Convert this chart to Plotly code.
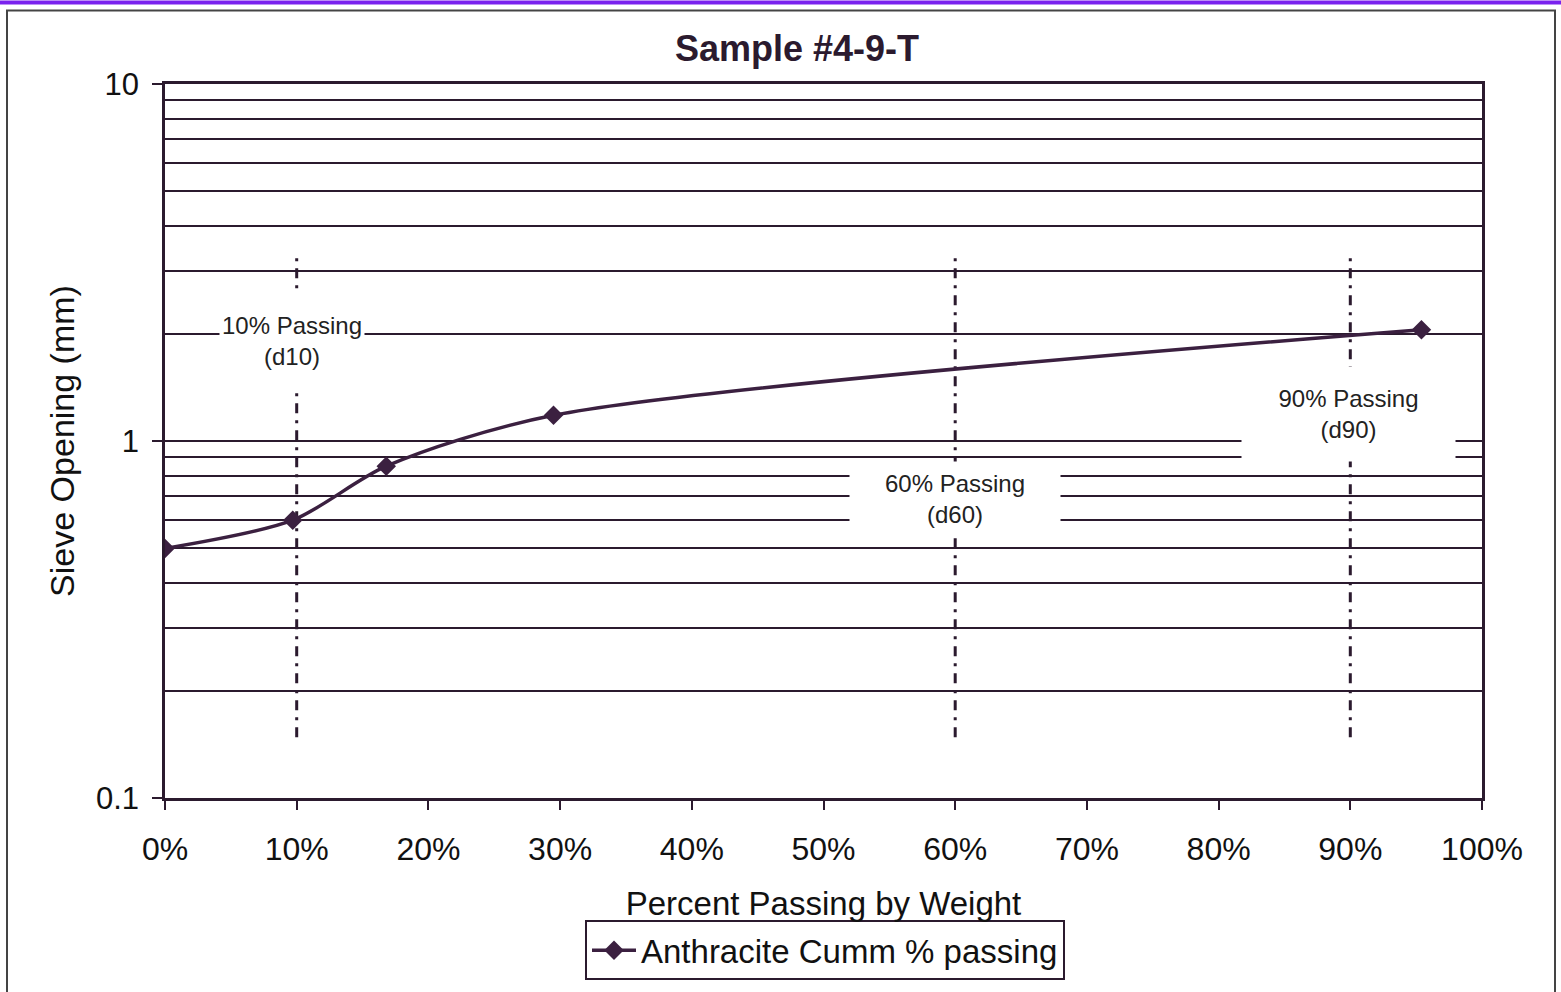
import math
import plotly.graph_objects as go

# ---- data ----
pct_passing = [0, 9.7, 16.8, 29.5, 95.4]          # % passing by weight
sieve_mm = [0.5, 0.6, 0.85, 1.18, 2.05]            # sieve opening (mm)
d_levels = [10, 60, 90]                            # d10, d60, d90 markers
d_line_y = [0.148, 3.4]                            # vertical extent of dotted lines
d_labels = ["10% Passing<br>(d10)", "60% Passing<br>(d60)", "90% Passing<br>(d90)"]
d_label_y = [1.90, 0.689, 1.19]
d_label_w = [144, 210, 213]
d_label_h = [94, 74, 94]
d_label_dx = [-5, 0, -2]
x_ticks = list(range(0, 101, 10))
x_ticktext = [f"{v}%" for v in x_ticks]
y_major = [0.1, 1, 10]
y_major_text = ["0.1", "1", "10"]
y_minor = [m * 10 ** e for e in (-1, 0) for m in range(2, 10)]

INK = "#2b1a2e"
LINE = "#3b2040"
FONT = "Arial, Liberation Sans, sans-serif"

T, B = 84, 190
PH = 992 - T - B

fig = go.Figure()

for i, lv in enumerate(d_levels):
    fig.add_trace(go.Scatter(
        x=[lv, lv], y=d_line_y, mode="lines", showlegend=False, hoverinfo="skip",
        line=dict(color=INK, width=3, dash="10px,7px,3px,7px")))

fig.add_trace(go.Scatter(
    x=pct_passing, y=sieve_mm, mode="lines+markers",
    name="Anthracite Cumm % passing",
    line=dict(color=LINE, width=3.5, shape="spline", smoothing=0.8),
    marker=dict(symbol="diamond", size=15, color=LINE)))

for lbl, ly, w, h, lv, dx in zip(d_labels, d_label_y, d_label_w, d_label_h, d_levels, d_label_dx):
    fig.add_annotation(
        x=lv, y=math.log10(ly), xref="x", yref="y", text=lbl, showarrow=False,
        font=dict(family=FONT, size=24, color="#222"), bgcolor="white",
        width=w, height=h, borderpad=0, align="center", xshift=dx)

fig.update_layout(
    width=1561, height=992,
    margin=dict(l=165, r=79, t=T, b=B),
    paper_bgcolor="white", plot_bgcolor="white",
    title=dict(text="<b>Sample #4-9-T</b>", x=797 / 1561, xref="container", xanchor="center",
               y=1 - 48 / 992, yanchor="middle", yref="container",
               font=dict(family=FONT, size=36, color=INK)),
    font=dict(family=FONT, color="#111"),
    xaxis=dict(range=[0, 100], tickvals=x_ticks, ticktext=x_ticktext,
               ticks="outside", ticklen=9, tickwidth=2, tickcolor=INK,
               ticklabelstandoff=12,
               showgrid=False, zeroline=False,
               showline=True, mirror=True, linecolor=INK, linewidth=2.5,
               tickfont=dict(family=FONT, size=32, color="#111"),
               title=dict(text="Percent Passing by Weight", standoff=26,
                          font=dict(family=FONT, size=33, color="#111"))),
    yaxis=dict(type="log", range=[-1, 1], tickvals=y_major, ticktext=y_major_text,
               ticks="outside", ticklen=10, tickwidth=2, tickcolor=INK,
               ticklabelstandoff=7,
               showgrid=True, gridcolor=INK, gridwidth=1.5, zeroline=False,
               showline=True, mirror=True, linecolor=INK, linewidth=2.5,
               tickfont=dict(family=FONT, size=31, color="#111"),
               minor=dict(tickvals=y_minor, showgrid=True, gridcolor=INK,
                          gridwidth=1.5, ticks=""),
               title=dict(text="Sieve Opening (mm)", standoff=12,
                          font=dict(family=FONT, size=34, color="#111"))),
    legend=dict(orientation="h", x=(825 - 165) / 1317, xanchor="center",
                y=-(925 - (992 - B)) / PH, yanchor="top",
                bordercolor=INK, borderwidth=2, bgcolor="white",
                font=dict(family=FONT, size=33, color="#111"),
                itemwidth=44, tracegroupgap=0),
    shapes=[
        dict(type="rect", xref="paper", yref="paper",
             x0=(7 - 165) / 1317, x1=(1555 - 165) / 1317,
             y0=((992 - B) - 1010) / PH, y1=((992 - B) - 10) / PH,
             line=dict(color="#444", width=2), layer="below"),
        dict(type="rect", xref="paper", yref="paper",
             x0=-165 / 1317, x1=(1561 - 165) / 1317,
             y0=((992 - B) - 4) / PH, y1=(992 - B) / PH,
             line=dict(width=0), fillcolor="#7a22ee", layer="above"),
    ],
)

fig.write_html("out.html", config={"displayModeBar": False},
               post_script="document.body.style.margin='0';")
